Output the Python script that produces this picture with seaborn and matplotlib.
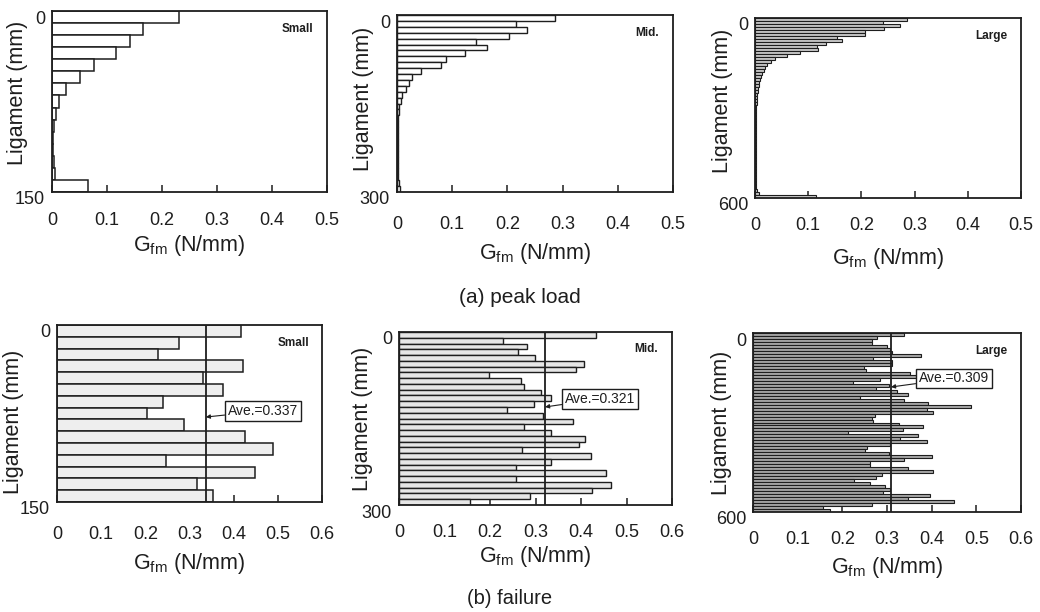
import numpy as np
import pandas as pd
import matplotlib
matplotlib.use("Agg")
import matplotlib.pyplot as plt
import matplotlib.transforms as mtransforms
from matplotlib.ticker import FuncFormatter
import seaborn as sns

# ---------------- data ----------------
bin_mm = 10
size_names = ["Small", "Mid.", "Large"]
ligament_lengths = [150, 300, 600]

peak_small = [0.230, 0.165, 0.142, 0.117, 0.077, 0.050, 0.025, 0.013, 0.007, 0.003,
              0.002, 0.002, 0.003, 0.006, 0.065]
peak_mid = [0.287, 0.216, 0.236, 0.202, 0.144, 0.163, 0.123, 0.088, 0.079, 0.044,
            0.027, 0.022, 0.017, 0.009, 0.007, 0.004, 0.003, 0.002, 0.002, 0.001,
            0.001, 0.001, 0.001, 0.001, 0.001, 0.001, 0.002, 0.002, 0.003, 0.005]
peak_large = [0.285, 0.240, 0.273, 0.243, 0.207, 0.207, 0.155, 0.163, 0.133, 0.116,
              0.118, 0.085, 0.061, 0.038, 0.030, 0.022, 0.019, 0.016, 0.013, 0.011,
              0.009, 0.008, 0.007, 0.006, 0.005, 0.004, 0.004, 0.003, 0.003, 0.002,
              0.002, 0.002, 0.002, 0.001, 0.001, 0.001, 0.001, 0.001, 0.001, 0.001,
              0.001, 0.001, 0.001, 0.001, 0.001, 0.001, 0.001, 0.001, 0.001, 0.001,
              0.001, 0.001, 0.001, 0.001, 0.001, 0.001, 0.002, 0.004, 0.008, 0.115]

fail_small = [0.416, 0.277, 0.228, 0.420, 0.330, 0.376, 0.239, 0.204, 0.287, 0.425,
              0.490, 0.247, 0.449, 0.318, 0.354]
fail_mid = [0.433, 0.228, 0.281, 0.261, 0.298, 0.407, 0.389, 0.198, 0.268, 0.274,
            0.311, 0.333, 0.296, 0.238, 0.316, 0.382, 0.274, 0.335, 0.409, 0.396,
            0.270, 0.421, 0.335, 0.257, 0.456, 0.257, 0.466, 0.424, 0.288, 0.155]
fail_large = [0.339, 0.278, 0.266, 0.266, 0.300, 0.307, 0.311, 0.377, 0.269, 0.311,
              0.311, 0.249, 0.253, 0.352, 0.367, 0.285, 0.223, 0.304, 0.275, 0.322,
              0.348, 0.239, 0.337, 0.392, 0.487, 0.390, 0.404, 0.274, 0.266, 0.269,
              0.326, 0.380, 0.336, 0.213, 0.369, 0.328, 0.390, 0.307, 0.255, 0.251,
              0.305, 0.400, 0.337, 0.263, 0.263, 0.346, 0.402, 0.289, 0.276, 0.227,
              0.263, 0.295, 0.307, 0.290, 0.397, 0.346, 0.449, 0.266, 0.157, 0.173]

ave_values = [0.337, 0.321, 0.309]
ave_arrow_mm = [78, 130, 181]          # ligament position the arrow points to
peak_xticks = [0, 0.1, 0.2, 0.3, 0.4, 0.5]
fail_xticks = [0, 0.1, 0.2, 0.3, 0.4, 0.5, 0.6]
row_titles = ["(a) peak load", "(b) failure"]
xlabel_text = r"G$_{\mathrm{fm}}$ (N/mm)"
ylabel_text = "Ligament (mm)"

# ---------------- style ----------------
sns.set_theme(style="white")
plt.rcParams["font.family"] = ["Liberation Sans", "DejaVu Sans"]
plt.rcParams["mathtext.fontset"] = "custom"
plt.rcParams["mathtext.rm"] = "Liberation Sans"
plt.rcParams["mathtext.it"] = "Liberation Sans:italic"
plt.rcParams["mathtext.bf"] = "Liberation Sans:bold"
INK = "#1e1e1e"

W, H = 1040, 612
fig = plt.figure(figsize=(W / 100, H / 100), dpi=100)
fig.patch.set_facecolor("white")


def rect(l, t, r, b):
    return [l / W, 1 - b / H, (r - l) / W, (b - t) / H]


# layout (pixel boxes, label offsets, bar styling)
layout = [
    # row a
    dict(box=(52, 11, 327, 192), pad=14.5, xl=-0.295, yl=(-0.127, 0.55),
         fill="white", lw=1.1),
    dict(box=(397, 15, 673, 192), pad=17.0, xl=-0.345, yl=(-0.123, 0.525),
         fill="white", lw=1.0),
    dict(box=(755, 18, 1021, 198), pad=14.0, xl=-0.335, yl=(-0.124, 0.54),
         fill="#c8c8c8", lw=0.8),
    # row b
    dict(box=(57, 325, 322, 502), pad=17.0, xl=-0.345, yl=(-0.166, 0.45),
         fill="#eeeeee", lw=1.1),
    dict(box=(399, 332, 672, 505), pad=13.5, xl=-0.30, yl=(-0.132, 0.5),
         fill="#e6e6e6", lw=1.0),
    dict(box=(753, 333, 1021, 512), pad=13.5, xl=-0.31, yl=(-0.116, 0.5),
         fill="#a8a8a8", lw=0.8),
]
ave_box = [(0.645, 0.514), (0.608, 0.613), (0.619, 0.746)]

peak_sets = [peak_small, peak_mid, peak_large]
fail_sets = [fail_small, fail_mid, fail_large]

fmt = FuncFormatter(lambda v, p: "0" if abs(v) < 1e-9 else f"{v:.1f}")
offset = mtransforms.ScaledTranslation(0, -0.06, fig.dpi_scale_trans)

for row in range(2):
    for col in range(3):
        lay = layout[row * 3 + col]
        L = ligament_lengths[col]
        vals = (peak_sets if row == 0 else fail_sets)[col]
        centers = np.arange(bin_mm / 2, L, bin_mm)
        df = pd.DataFrame({"ligament": centers, "gfm": vals})
        ax = fig.add_axes(rect(*lay["box"]))
        sns.barplot(data=df, x="gfm", y="ligament", orient="h", native_scale=True,
                    width=1.0, color=lay["fill"], saturation=1, edgecolor=INK,
                    linewidth=lay["lw"], errorbar=None, ax=ax)
        xt = peak_xticks if row == 0 else fail_xticks
        ax.set_xlim(xt[0], xt[-1])
        ax.set_ylim(L, 0)
        ax.set_xticks(xt)
        ax.xaxis.set_major_formatter(fmt)
        ax.set_yticks([0, L])
        ax.set_yticklabels(["0", str(L)])
        ax.tick_params(axis="x", direction="in", length=5, width=1.1, color=INK,
                       pad=lay["pad"], labelsize=13, labelcolor=INK, bottom=True)
        ax.tick_params(axis="y", length=0, pad=5, labelsize=13, labelcolor=INK)
        for lbl in ax.yaxis.get_majorticklabels():
            lbl.set_transform(lbl.get_transform() + offset)
        for sp in ax.spines.values():
            sp.set_visible(True)
            sp.set_color(INK)
            sp.set_linewidth(1.3)
        ax.set_xlabel(xlabel_text, fontsize=15.5, color=INK)
        ax.xaxis.label.set_va("center")
        ax.xaxis.set_label_coords(0.5, lay["xl"])
        ax.set_ylabel(ylabel_text, fontsize=15.5, color=INK)
        ax.yaxis.label.set_va("center")
        ax.yaxis.set_label_coords(*lay["yl"])
        ax.text(0.95, 0.9, size_names[col], transform=ax.transAxes, ha="right",
                va="center", fontsize=8.5, fontweight="bold", color=INK)
        if row == 1:
            ave = ave_values[col]
            ax.axvline(ave, color=INK, lw=1.3)
            ax.annotate(f"Ave.={ave:.3f}", xy=(ave, ave_arrow_mm[col]), xycoords="data",
                        xytext=ave_box[col], textcoords="axes fraction",
                        ha="left", va="center", fontsize=10, color=INK,
                        bbox=dict(boxstyle="square,pad=0.2", fc="white", ec=INK, lw=1.0),
                        arrowprops=dict(arrowstyle="-|>", color=INK, lw=0.8,
                                        mutation_scale=6, shrinkA=0, shrinkB=0))

fig.text(520 / W, 1 - 297 / H, row_titles[0], ha="center", va="center",
         fontsize=15, color=INK)
fig.text(510 / W, 1 - 598 / H, row_titles[1], ha="center", va="center",
         fontsize=14.5, color=INK)

fig.savefig("out.png", dpi=100, facecolor="white")
